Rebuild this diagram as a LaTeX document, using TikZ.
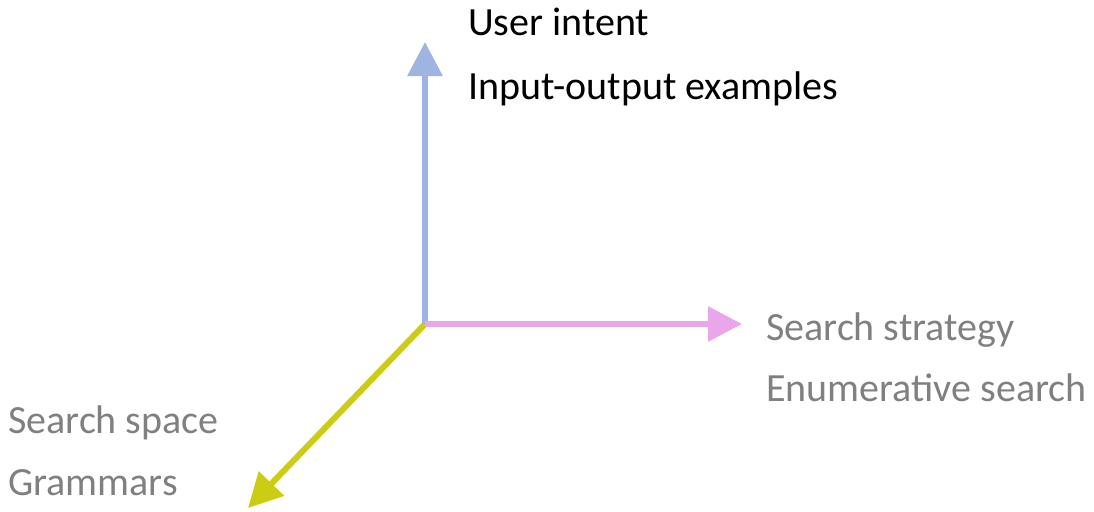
\documentclass[tikz,border=0pt]{standalone}
\usepackage{fontspec}
\setmainfont{Carlito}
\definecolor{IntentBlue}{RGB}{158, 180, 225}
\definecolor{StrategyPink}{RGB}{234, 166, 234}
\definecolor{SpaceYellow}{RGB}{204, 204, 20}
\definecolor{LabelGray}{RGB}{128, 128, 128}
\usetikzlibrary{arrows.meta}

\begin{document}
\begin{tikzpicture}[x=1pt, y=-1pt,
    every node/.style={font=\fontsize{40}{48}\selectfont, inner sep=0pt, anchor=base west},
    axis/.style={line width=6pt, -{Triangle[length=34pt, width=34pt]}}]
        \useasboundingbox (0,0) rectangle (1094,511);

        % Axes
        \coordinate (origin) at (425,324);
        \coordinate (intent) at (425,42);
        \coordinate (strategy) at (742,324);
        \coordinate (space) at (248,508);
        \draw[axis, SpaceYellow] (origin) -- (space);
        \draw[axis, IntentBlue] (origin) -- (intent);
        \draw[axis, StrategyPink] (origin) -- (strategy);

        % User intent
        \node (intentTitle) at (468,36) {User intent};
        \node (intentEx) at (468,99) {Input-output examples};

        % Search strategy
        \node[LabelGray] (strategyTitle) at (766,340) {Search strategy};
        \node[LabelGray] (strategyEx) at (766,401) {Enumerative search};

        % Search space
        \node[LabelGray] (spaceTitle) at (8,433) {Search space};
        \node[LabelGray] (spaceEx) at (8,495) {Grammars};
    \end{tikzpicture}
\end{document}
